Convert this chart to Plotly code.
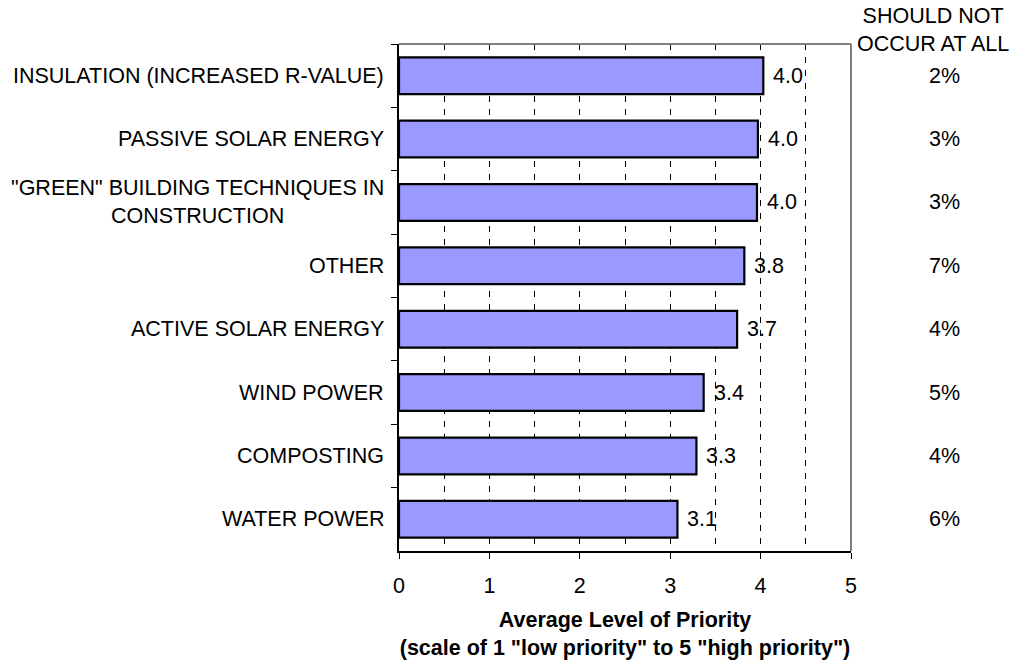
import plotly.graph_objects as go

# categories, top to bottom
categories = [
    'INSULATION (INCREASED R-VALUE)',
    'PASSIVE SOLAR ENERGY',
    '"GREEN" BUILDING TECHNIQUES IN<br>CONSTRUCTION',
    'OTHER',
    'ACTIVE SOLAR ENERGY',
    'WIND POWER',
    'COMPOSTING',
    'WATER POWER',
]
avg_priority = [4.03, 3.97, 3.96, 3.82, 3.74, 3.37, 3.29, 3.08]
should_not_occur = ['2%', '3%', '3%', '7%', '4%', '5%', '4%', '6%']
x_ticks = [0, 1, 2, 3, 4, 5]

font_family = 'Liberation Sans, Arial, sans-serif'
fsize = 21.5

fig = go.Figure()
fig.add_trace(go.Bar(
    y=categories,
    x=avg_priority,
    orientation='h',
    marker=dict(color='#9999FF', line=dict(color='black', width=2.2)),
    hoverinfo='skip',
))

annotations = []
# category labels (centred lines, right aligned block)
for cat in categories:
    annotations.append(dict(
        x=0, xref='paper', y=cat, yref='y', text=cat, showarrow=False,
        xanchor='right', yanchor='middle', align='center', xshift=-13,
        font=dict(size=fsize, color='black', family=font_family)))
# value labels
for cat, v in zip(categories, avg_priority):
    annotations.append(dict(
        x=v, xref='x', y=cat, yref='y', text=f'{v:.1f}', showarrow=False,
        xanchor='left', yanchor='middle', xshift=8,
        font=dict(size=fsize, color='black', family=font_family)))
# "should not occur at all" column
for cat, p in zip(categories, should_not_occur):
    annotations.append(dict(
        x=1.206, xref='paper', y=cat, yref='y', text=p, showarrow=False,
        xanchor='center', yanchor='middle',
        font=dict(size=fsize, color='black', family=font_family)))
annotations.append(dict(
    x=1.181, xref='paper', y=1.027, yref='paper',
    text='SHOULD NOT<br>OCCUR AT ALL', showarrow=False,
    xanchor='center', yanchor='middle', align='center',
    font=dict(size=fsize, color='black', family=font_family)))

# page has an 8px body margin, so the figure is shifted by 8px
fig.update_layout(
    width=1013, height=656,
    margin=dict(l=391, r=170, t=36, b=113),
    paper_bgcolor='white', plot_bgcolor='white',
    showlegend=False,
    bargap=0.42,
    font=dict(family=font_family, size=fsize, color='black'),
    annotations=annotations,
    shapes=[
        dict(type='line', xref='paper', yref='paper', x0=0, x1=1, y0=1, y1=1,
             line=dict(color='#808080', width=2)),
        dict(type='line', xref='paper', yref='paper', x0=1, x1=1, y0=0, y1=1,
             line=dict(color='#808080', width=2)),
    ],
)

fig.update_xaxes(
    range=[0, 5],
    automargin=False,
    tickvals=x_ticks,
    ticktext=[str(t) for t in x_ticks],
    ticks='outside', ticklen=6, tickcolor='black', tickwidth=1.3,
    ticklabelstandoff=8,
    showline=True, linecolor='black', linewidth=2,
    showgrid=True, gridcolor='black', gridwidth=1, griddash='6px,7px',
    minor=dict(dtick=0.5, tick0=0, showgrid=True, gridcolor='black',
               gridwidth=1, griddash='6px,7px'),
    zeroline=False,
    tickfont=dict(size=fsize, color='black'),
    title=dict(text='<b>Average Level of Priority<br>(scale of 1 "low priority" to 5 "high priority")</b>',
               font=dict(size=fsize, color='black'), standoff=15),
)

fig.update_yaxes(
    autorange='reversed',
    automargin=False,
    showticklabels=False,
    ticks='outside', ticklen=6, tickcolor='black', tickwidth=1.3,
    tickson='boundaries',
    showline=True, linecolor='black', linewidth=2,
    showgrid=False, zeroline=False,
)

fig.write_html('out.html')
